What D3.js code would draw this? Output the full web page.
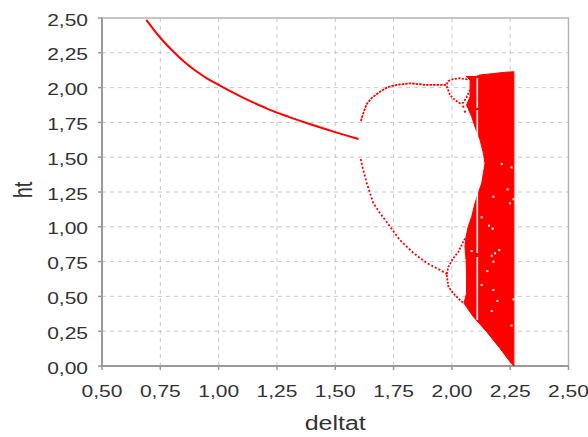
<!DOCTYPE html>
<html><head><meta charset="utf-8">
<script src="https://cdn.jsdelivr.net/npm/d3@7"></script>
<style>body{margin:0;background:#fff}svg{display:block}text{font-family:"Liberation Sans",Arial,sans-serif}</style>
</head><body><svg id="c" width="588" height="437"></svg>
<script>
// ---- data ----
const xTicks = [0.5, 0.75, 1.0, 1.25, 1.5, 1.75, 2.0, 2.25, 2.5];
const yTicks = [0, 0.25, 0.5, 0.75, 1.0, 1.25, 1.5, 1.75, 2.0, 2.25, 2.5];

// period-1 branch
const stableD = [0.690, 0.720, 0.750, 0.800, 0.850, 0.900, 0.950, 1.000, 1.050, 1.100, 1.150, 1.200, 1.250, 1.300, 1.350, 1.400, 1.450, 1.500, 1.550, 1.600];
const stableH = [2.486, 2.420, 2.358, 2.268, 2.190, 2.123, 2.067, 2.020, 1.975, 1.932, 1.892, 1.855, 1.820, 1.790, 1.761, 1.733, 1.706, 1.680, 1.655, 1.631];

// period-2 branches
const upperD = [1.610, 1.619, 1.635, 1.656, 1.692, 1.726, 1.763, 1.820, 1.892, 1.971, 1.978];
const upperH = [1.760, 1.810, 1.882, 1.925, 1.971, 2.004, 2.019, 2.031, 2.019, 2.019, 2.024];
const lowerD = [1.609, 1.620, 1.635, 1.649, 1.663, 1.692, 1.735, 1.777, 1.835, 1.892, 1.949, 1.978];
const lowerH = [1.487, 1.408, 1.315, 1.243, 1.171, 1.099, 1.001, 0.905, 0.812, 0.740, 0.690, 0.661];

// period-4 loops
const loopATopD = [1.978, 1.985, 2.006, 2.035, 2.064, 2.078];
const loopATopH = [2.024, 2.047, 2.062, 2.067, 2.060, 2.078];
const loopABotD = [1.978, 1.992, 2.013, 2.035, 2.049, 2.064, 2.078];
const loopABotH = [2.010, 1.947, 1.911, 1.887, 1.892, 1.935, 1.983];
const loopBTopD = [1.978, 1.985, 2.006, 2.028, 2.049, 2.061];
const loopBTopH = [0.661, 0.713, 0.774, 0.821, 0.893, 0.927];
const loopBBotD = [1.978, 1.985, 2.006, 2.035, 2.052];
const loopBBotH = [0.655, 0.570, 0.522, 0.474, 0.450];

// chaotic band outline
const chaosD = [2.061, 2.104, 2.121, 2.163, 2.228, 2.266, 2.266, 2.249, 2.206, 2.149, 2.092, 2.052, 2.063, 2.063, 2.061, 2.056, 2.061, 2.070, 2.085, 2.099, 2.113, 2.128, 2.135, 2.142, 2.135, 2.121, 2.099, 2.085, 2.063, 2.078, 2.078];
const chaosH = [2.080, 2.080, 2.091, 2.098, 2.110, 2.114, 0.000, 0.031, 0.127, 0.246, 0.354, 0.450, 0.522, 0.642, 0.761, 0.857, 0.929, 1.001, 1.073, 1.169, 1.241, 1.313, 1.384, 1.456, 1.528, 1.624, 1.719, 1.791, 1.875, 1.935, 2.055];

// periodic window (white gap) inside the band
const gapD = 2.109;
const gapFromH = [2.069, 1.839, 0.783];
const gapToH = [1.853, 0.812, 0.330];

// isolated empty cells in the band
const holeD = [2.214, 2.256, 2.239, 2.178, 2.249, 2.128, 2.159, 2.175, 2.085, 2.203, 2.185, 2.171, 2.178, 2.152, 2.128, 2.178, 2.195, 2.171, 2.256, 2.264, 2.264];
const holeH = [1.451, 1.427, 1.269, 1.216, 1.169, 1.068, 1.008, 0.986, 0.826, 0.833, 0.810, 0.792, 0.749, 0.682, 0.582, 0.546, 0.467, 0.395, 0.290, 1.198, 0.479];

// stray points
const strayD = [2.049, 2.056];
const strayH = [1.863, 1.827];

// ---- drawing ----
const svg = d3.select("#c");
const x = d3.scaleLinear().domain([0.5, 2.5]).range([102, 568.5]);
const y = d3.scaleLinear().domain([0, 2.5]).range([366, 18]);
const fmt = v => d3.format(".2f")(v).replace(".", ",");
const RED = "#ff0000";
const SX = 1.25;

svg.append("defs").append("clipPath").attr("id", "clip")
  .append("rect").attr("x", x(0.5)).attr("y", y(2.5)).attr("width", x(2.5) - x(0.5)).attr("height", y(0) - y(2.5));

// grid
const grid = svg.append("g");
grid.selectAll("line.vx").data(xTicks.slice(1, -1)).join("line")
  .attr("x1", d => x(d)).attr("x2", d => x(d)).attr("y1", y(2.5)).attr("y2", y(0))
  .attr("stroke", "#c8c8c8").attr("stroke-dasharray", "4,4");
grid.selectAll("line.hy").data(yTicks.slice(1, -1)).join("line")
  .attr("class", "hy")
  .attr("x1", x(0.5)).attr("x2", x(2.5)).attr("y1", d => y(d)).attr("y2", d => y(d))
  .attr("stroke", "#c8c8c8").attr("stroke-dasharray", "4,4");

// frame
svg.append("rect").attr("x", x(0.5)).attr("y", y(2.5)).attr("width", x(2.5) - x(0.5)).attr("height", y(0) - y(2.5))
  .attr("fill", "none").attr("stroke", "#b4b4b4").attr("stroke-width", 1.5);
svg.append("line").attr("x1", x(0.5)).attr("x2", x(0.5)).attr("y1", y(2.5)).attr("y2", y(0)).attr("stroke", "#999").attr("stroke-width", 2);
svg.append("line").attr("x1", x(0.5)).attr("x2", x(2.5)).attr("y1", y(0)).attr("y2", y(0)).attr("stroke", "#999").attr("stroke-width", 2);

// ticks
svg.selectAll("line.tx").data(xTicks).join("line").attr("class", "tx")
  .attr("x1", d => x(d)).attr("x2", d => x(d)).attr("y1", y(0)).attr("y2", y(0) + 4)
  .attr("stroke", "#999").attr("stroke-width", 1.5);
svg.selectAll("line.ty").data(yTicks).join("line").attr("class", "ty")
  .attr("x1", x(0.5) - 4).attr("x2", x(0.5)).attr("y1", d => y(d)).attr("y2", d => y(d))
  .attr("stroke", "#999").attr("stroke-width", 1.5);

// tick labels
svg.selectAll("text.xl").data(xTicks).join("text").attr("class", "xl")
  .attr("transform", d => `translate(${x(d)},397) scale(${SX},1)`)
  .attr("text-anchor", "middle").attr("font-size", 16.8).attr("fill", "#333").text(fmt);
svg.selectAll("text.yl").data(yTicks).join("text").attr("class", "yl")
  .attr("transform", d => `translate(88,${y(d) + 7.5}) scale(${SX},1)`)
  .attr("text-anchor", "end").attr("font-size", 16.8).attr("fill", "#333").text(fmt);

// axis titles
svg.append("text").attr("transform", `translate(${(x(0.5) + x(2.5)) / 2},430) scale(${SX},1)`)
  .attr("text-anchor", "middle").attr("font-size", 20).attr("fill", "#333").text("deltat");
svg.append("text").attr("transform", `translate(32,190) scale(${SX},1) rotate(-90)`)
  .attr("text-anchor", "middle").attr("font-size", 20).attr("fill", "#333").text("ht");

// data marks
const plot = svg.append("g").attr("clip-path", "url(#clip)");
const zip = (a, b) => a.map((v, i) => [v, b[i]]);
const lineSmooth = d3.line().x(p => x(p[0])).y(p => y(p[1])).curve(d3.curveMonotoneX);
const lineLin = d3.line().x(p => x(p[0])).y(p => y(p[1])).curve(d3.curveLinear);

plot.append("path").attr("d", lineSmooth(zip(stableD, stableH)))
  .attr("fill", "none").attr("stroke", RED).attr("stroke-width", 2);

plot.append("path").attr("d", lineLin(zip(upperD, upperH)))
  .attr("fill", "none").attr("stroke", RED).attr("stroke-width", 1.8).attr("stroke-dasharray", "2.5,1");
plot.append("path").attr("d", lineLin(zip(lowerD, lowerH)))
  .attr("fill", "none").attr("stroke", RED).attr("stroke-width", 1.8).attr("stroke-dasharray", "2,2");
[[loopATopD, loopATopH], [loopABotD, loopABotH], [loopBTopD, loopBTopH], [loopBBotD, loopBBotH]]
  .forEach(([a, b]) => plot.append("path").attr("d", lineLin(zip(a, b)))
    .attr("fill", "none").attr("stroke", RED).attr("stroke-width", 1.8).attr("stroke-dasharray", "2,1.5"));

plot.append("path").attr("d", lineLin(zip(chaosD, chaosH)) + "Z").attr("fill", RED).attr("stroke", RED).attr("stroke-width", 1);

plot.selectAll("line.gap").data(gapFromH.map((h, i) => [h, gapToH[i]])).join("line").attr("class", "gap")
  .attr("x1", x(gapD)).attr("x2", x(gapD)).attr("y1", d => y(d[0])).attr("y2", d => y(d[1]))
  .attr("stroke", "#fff").attr("stroke-width", 1.6);

plot.selectAll("rect.hole").data(zip(holeD, holeH)).join("rect").attr("class", "hole")
  .attr("x", d => x(d[0]) - 1).attr("y", d => y(d[1]) - 1).attr("width", 2).attr("height", 2).attr("fill", "#fff");
plot.selectAll("rect.stray").data(zip(strayD, strayH)).join("rect").attr("class", "stray")
  .attr("x", d => x(d[0]) - 1).attr("y", d => y(d[1]) - 1).attr("width", 2).attr("height", 2).attr("fill", RED);
</script></body></html>
